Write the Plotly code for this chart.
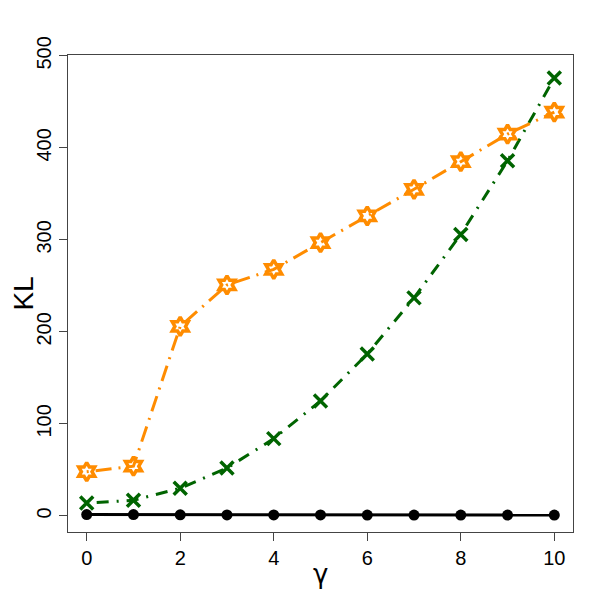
import plotly.graph_objects as go

gamma = [0, 1, 2, 3, 4, 5, 6, 7, 8, 9, 10]
kl_black = [1.5, 1.4, 1.2, 1.1, 1.0, 1.0, 0.9, 0.9, 0.9, 0.9, 0.9]
kl_green = [14, 17, 30, 52, 84, 125, 176, 237, 306, 386, 476]
kl_orange = [48, 54, 206, 251, 268, 297, 326, 355, 385, 415, 439]

fig = go.Figure()

fig.add_trace(go.Scatter(
    x=gamma, y=kl_black, mode="lines+markers",
    line=dict(color="black", width=3),
    marker=dict(symbol="circle", size=11, color="black"),
))
fig.add_trace(go.Scatter(
    x=gamma, y=kl_green, mode="lines+markers",
    line=dict(color="darkgreen", width=3, dash="2px,8px,12px,8px"),
    marker=dict(symbol="x-thin-open", size=13, line=dict(color="darkgreen", width=3.5)),
))
fig.add_trace(go.Scatter(
    x=gamma, y=kl_orange, mode="lines+markers",
    line=dict(color="darkorange", width=3, dash="2px,7px,16px,7px"),
    marker=dict(symbol="hexagram-open", size=14, line=dict(color="darkorange", width=3.5)),
))

axis_common = dict(
    showline=True, linecolor="#444", linewidth=1.2, mirror=True,
    ticks="outside", ticklen=8, tickcolor="#444", tickwidth=1.2,
    showgrid=False, zeroline=False, automargin=False,
    tickfont=dict(family="Liberation Sans, Arial, sans-serif", size=20, color="black"),
)

# the page body adds an 8px offset, margins compensate for it
fig.update_layout(
    width=601, height=601,
    margin=dict(l=60, r=36, t=47, b=77),
    paper_bgcolor="white", plot_bgcolor="white",
    showlegend=False,
    font=dict(family="Liberation Sans, Arial, sans-serif", color="black"),
    xaxis=dict(
        range=[-0.4, 10.4], tickvals=[0, 2, 4, 6, 8, 10],
        **axis_common,
    ),
    yaxis=dict(
        range=[-17.5, 501], tickvals=[0, 100, 200, 300, 400, 500],
        tickangle=-90,
        title=dict(text="KL", font=dict(size=28), standoff=4),
        **axis_common,
    ),
)

# x-axis title placed by hand, a bit closer to the tick labels
fig.add_annotation(
    text="γ", xref="paper", yref="paper", x=0.5, y=-0.088,
    xanchor="center", yanchor="middle", showarrow=False,
    font=dict(size=26, family="DejaVu Sans, sans-serif"),
)

fig.write_html("out.html")
